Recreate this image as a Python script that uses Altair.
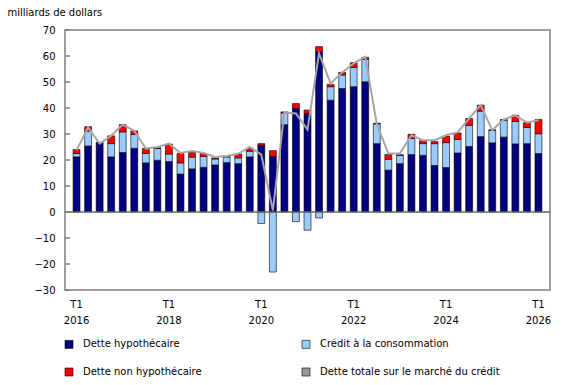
import altair as alt
import pandas as pd

# Quarter categories 2016 T1 .. 2026 T1
quarters = [f"T{q} {y}" for y in range(2016, 2027) for q in range(1, 5)][:41]

hypo = [21.2, 25.4, 26.4, 21.2, 22.9, 24.5, 18.9, 19.9, 19.4, 14.6,
        16.6, 17.2, 18.1, 19.0, 18.6, 21.2, 25.7, 21.4, 33.6, 39.8,
        37.9, 61.6, 43.0, 47.5, 48.2, 50.1, 26.3, 16.1, 18.6, 22.1,
        21.8, 17.9, 17.1, 22.7, 25.2, 29.0, 26.6, 28.8, 26.2, 26.3,
        22.5]
credit = [1.3, 5.7, 0.2, 5.1, 7.9, 5.3, 3.6, 4.5, 2.9, 4.3,
          4.5, 4.2, 2.3, 2.2, 2.2, 2.2, -4.4, -23.1, 4.5, -3.7,
          -7.0, -2.3, 5.2, 5.2, 7.4, 8.6, 7.6, 4.2, 3.2, 6.2,
          4.5, 8.4, 9.6, 5.2, 8.1, 9.8, 4.9, 6.5, 8.6, 6.2,
          7.6]
nonhypo = [1.5, 1.7, 0.2, 3.0, 2.8, 1.4, 1.9, 0.3, 3.8, 3.6,
           1.8, 1.1, 0.4, 0.2, 1.5, 1.1, 0.6, 2.2, 0.4, 1.9,
           1.3, 2.0, 0.9, 1.0, 1.8, 0.8, 0.2, 1.8, 0.2, 1.6,
           1.1, 0.8, 2.5, 2.5, 2.7, 2.3, 0.1, 0.3, 2.4, 1.9,
           5.5]
total = [23.8, 32.5, 26.3, 29.3, 33.6, 31.2, 24.4, 25.0, 26.3, 22.7,
         23.5, 22.7, 21.2, 21.5, 22.4, 25.0, 22.1, 0.6, 38.3, 37.9,
         31.7, 61.0, 49.4, 53.7, 57.2, 59.7, 33.9, 22.5, 22.5, 29.5,
         27.6, 27.6, 29.5, 30.6, 36.0, 41.1, 31.5, 35.6, 37.2, 34.4,
         35.3]

series = ["Dette hypothécaire", "Crédit à la consommation",
          "Dette non hypothécaire", "Dette totale sur le marché du crédit"]
colors = ["#000080", "#99ccff", "#ff0000", "#999999"]
x_label_values = ["T1 2016", "T1 2018", "T1 2020", "T1 2022", "T1 2024", "T1 2026"]
y_ticks = [-30, -20, -10, 0, 10, 20, 30, 40, 50, 60, 70]

rows = []
for i, q in enumerate(quarters):
    rows.append({"quarter": q, "serie": series[0], "value": hypo[i], "ord": 0})
    rows.append({"quarter": q, "serie": series[1], "value": credit[i], "ord": 1})
    rows.append({"quarter": q, "serie": series[2], "value": nonhypo[i], "ord": 2})
df_bars = pd.DataFrame(rows)
df_total = pd.DataFrame({"quarter": quarters, "total": total})
df_zero = pd.DataFrame({"z": [0]})
df_ticks = pd.DataFrame({"t": y_ticks})

FONT = "DejaVu Sans"

xaxis = alt.Axis(values=x_label_values, labelExpr="split(datum.value, ' ')",
                 labelAngle=0, ticks=False, domain=False, labelPadding=9,
                 labelLineHeight=16, title=None, labelFontSize=10,
                 labelColor="black", labelBaseline="top")
yaxis = alt.Axis(values=y_ticks, title="milliards de dollars", titleAngle=0,
                 titleX=-58, titleY=-18, titleAlign="left",
                 titleBaseline="middle", titleFontWeight="normal",
                 titleFontSize=10, titleColor="black",
                 ticks=False, domain=False, grid=False,
                 labelOverlap=False,
                 labelPadding=10, labelFontSize=10, labelColor="black")
yscale = alt.Scale(domain=[-30, 70], nice=False, zero=False)

bars = alt.Chart(df_bars).mark_bar(stroke="black", strokeWidth=0.6).encode(
    x=alt.X("quarter:N", sort=quarters,
            scale=alt.Scale(paddingInner=0.4, paddingOuter=0.7), axis=xaxis),
    y=alt.Y("value:Q", stack="zero", scale=yscale, axis=yaxis),
    color=alt.Color("serie:N", scale=alt.Scale(domain=series, range=colors),
                    legend=alt.Legend(orient="none", legendX=-1, legendY=309,
                                      direction="horizontal",
                                      columns=2, title=None, symbolType="square",
                                      symbolSize=64, symbolStrokeColor="black",
                                      symbolStrokeWidth=0.6, labelFontSize=10,
                                      labelColor="black", labelOffset=9,
                                      columnPadding=98, rowPadding=16,
                                      padding=0, labelLimit=300)),
    order=alt.Order("ord:Q", sort="ascending"),
)

zero = alt.Chart(df_zero).mark_rule(color="#666666", strokeWidth=1.5).encode(
    y=alt.Y("z:Q", scale=yscale, axis=yaxis)
)

ticks = alt.Chart(df_ticks).mark_rule(color="#808080", strokeWidth=1.5).encode(
    y=alt.Y("t:Q", scale=yscale, axis=yaxis), x=alt.value(0), x2=alt.value(5)
)

line = alt.Chart(df_total).mark_line(color="#a6a6a6", strokeWidth=2).encode(
    x=alt.X("quarter:N", sort=quarters, axis=xaxis),
    y=alt.Y("total:Q", scale=yscale, axis=yaxis),
)

chart = alt.layer(bars, zero, ticks, line).properties(
    width=485, height=260,
    autosize=alt.AutoSizeParams(type="none"),
    padding={"left": 65, "top": 30, "right": 30, "bottom": 95},
).configure(font=FONT).configure_view(
    stroke="#808080", strokeWidth=1.5
).configure_axis(labelOverlap=False)

chart.save("out.html", embed_options={"renderer": "svg", "actions": False})
